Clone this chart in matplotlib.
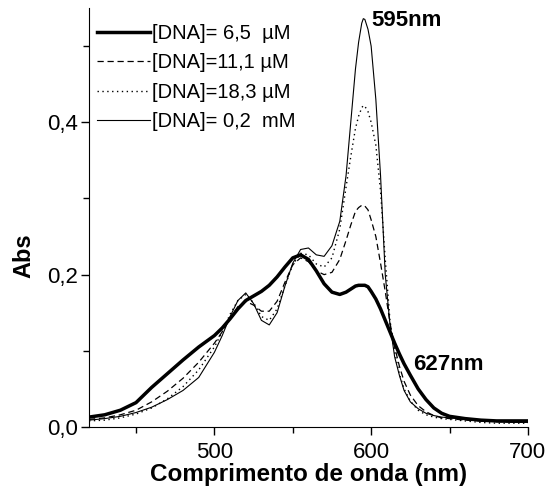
import numpy as np
import matplotlib.pyplot as plt
from matplotlib.ticker import MultipleLocator, FuncFormatter

plt.rcParams['font.family'] = ['Liberation Sans', 'DejaVu Sans']

# wavelengths (nm), shared by all spectra
wl = [420, 430, 440, 450, 460, 470, 480, 490, 500, 505, 510, 515, 520, 525, 530,
      535, 540, 545, 550, 555, 560, 565, 570, 575, 580, 584, 587, 590, 592, 594,
      595, 596, 598, 600, 603, 606, 609, 612, 615, 618, 621, 625, 630, 635, 640,
      645, 650, 660, 670, 680, 690, 700]

# [DNA] = 6,5 uM
abs_65 = [.013, .016, .022, .032, .052, .070, .088, .105, .120, .130, .142, .155, .166, .172, .178,
          .186, .197, .210, .222, .226, .220, .205, .188, .177, .174, .177, .181, .185, .186, .186,
          .186, .186, .184, .178, .168, .155, .140, .125, .110, .096, .083, .068, .050, .036, .025,
          .018, .014, .011, .009, .008, .008, .008]

# [DNA] = 11,1 uM
abs_111 = [.010, .012, .016, .022, .033, .047, .064, .085, .110, .125, .143, .158, .165, .160, .152,
           .152, .165, .190, .213, .222, .217, .205, .200, .203, .220, .245, .265, .283, .288, .291,
           .291, .290, .285, .272, .250, .215, .178, .137, .105, .080, .060, .042, .028, .020, .015,
           .012, .011, .009, .008, .007, .007, .007]

# [DNA] = 18,3 uM
abs_183 = [.008, .009, .012, .017, .025, .037, .053, .075, .105, .125, .148, .166, .174, .163, .145,
           .140, .155, .185, .213, .228, .226, .214, .210, .222, .260, .315, .355, .392, .408, .419,
           .422, .421, .414, .400, .370, .310, .220, .140, .098, .070, .050, .034, .022, .016, .013,
           .011, .010, .008, .006, .005, .005, .005]

# [DNA] = 0,2 mM
abs_02 = [.009, .011, .014, .019, .026, .036, .048, .065, .098, .120, .145, .166, .176, .162, .140,
          .134, .150, .185, .215, .233, .235, .226, .224, .238, .270, .330, .400, .470, .505, .530,
          .536, .535, .522, .500, .430, .330, .200, .135, .092, .068, .048, .033, .024, .018, .015,
          .013, .012, .010, .008, .007, .006, .006]

labels = ['[DNA]= 6,5  \u00b5M', '[DNA]=11,1 \u00b5M', '[DNA]=18,3 \u00b5M', '[DNA]= 0,2  mM']

fig = plt.figure(figsize=(5.5, 5), dpi=100)
ax = fig.add_axes([0.1618, 0.146, 0.798, 0.838])

ax.plot(wl, abs_65, color='black', lw=2.5, label=labels[0])
ax.plot(wl, abs_111, color='black', lw=0.9, ls=(0, (5, 3)), label=labels[1])
ax.plot(wl, abs_183, color='black', lw=1.0, ls=(0, (1, 2.5)), label=labels[2])
ax.plot(wl, abs_02, color='black', lw=0.8, label=labels[3])

ax.set_xlim(420, 700)
ax.set_ylim(0, 0.55)
ax.spines['top'].set_visible(False)
ax.spines['right'].set_visible(False)

ax.xaxis.set_major_locator(MultipleLocator(100))
ax.xaxis.set_minor_locator(MultipleLocator(50))
ax.yaxis.set_major_locator(MultipleLocator(0.2))
ax.yaxis.set_minor_locator(MultipleLocator(0.1))
ax.yaxis.set_major_formatter(FuncFormatter(lambda v, p: f'{v:.1f}'.replace('.', ',')))
ax.tick_params(which='major', direction='out', length=6, width=1, labelsize=16)
ax.tick_params(axis='x', which='major', pad=5)
ax.tick_params(axis='y', which='major', pad=2)
ax.tick_params(which='minor', direction='out', length=4, width=1)

ax.set_xlabel('Comprimento de onda (nm)', fontsize=17.5, fontweight='bold')
ax.set_ylabel('Abs', fontsize=17, fontweight='bold')
ax.yaxis.set_label_coords(-0.123, 0.41)
ax.xaxis.set_label_coords(0.5, -0.085)

ax.text(600, 0.533, '595nm', fontsize=16, fontweight='bold', ha='left', va='center')
ax.text(627, 0.082, '627nm', fontsize=16, fontweight='bold', ha='left', va='center')

ax.legend(loc='upper left', bbox_to_anchor=(0.018, 0.962), frameon=False, fontsize=14.5,
          handlelength=2.65, handletextpad=0.1, labelspacing=0.52, borderaxespad=0,
          borderpad=0)

fig.savefig('out.png', dpi=100)
